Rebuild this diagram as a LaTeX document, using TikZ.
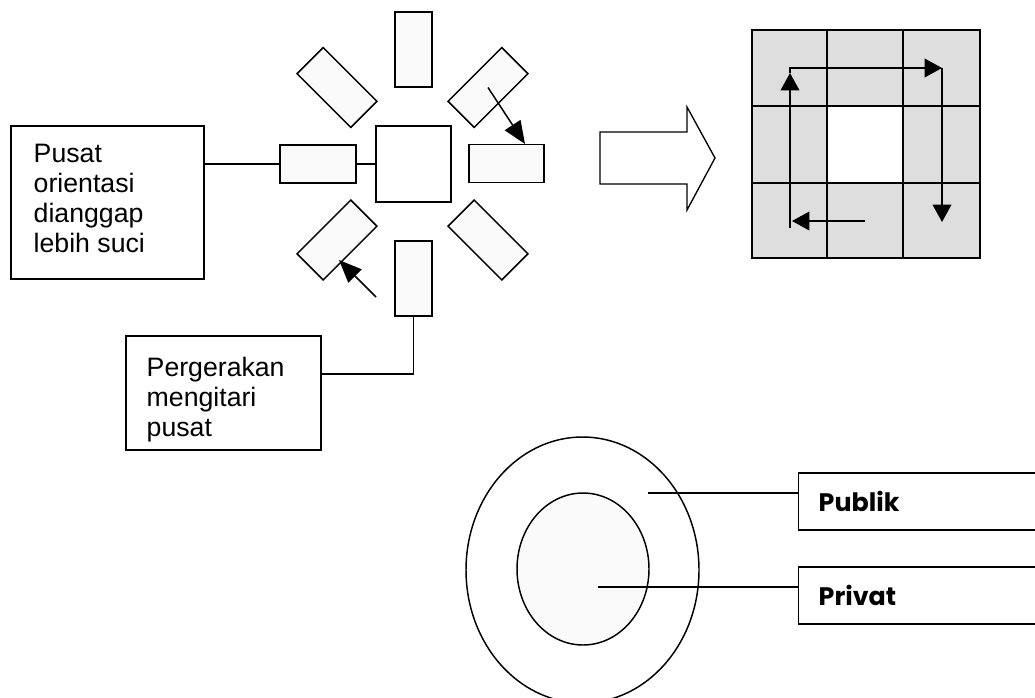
\documentclass[tikz,border=0pt]{standalone}
\usepackage{fontspec}
\setmainfont{Liberation Sans}
\newfontfamily\popfont{Poppins}
\usetikzlibrary{arrows.meta,calc,shapes.geometric}
\begin{document}
\begin{tikzpicture}[x=0.75pt,y=-0.75pt,line width=1.1pt,
  blk/.style={draw=black,line width=1.1pt,inner sep=0pt},
  rbox/.style={blk,fill=gray!4,minimum width=57pt,minimum height=27.75pt},
  vbox/.style={blk,fill=gray!4,minimum width=27.75pt,minimum height=56.25pt},
  hbox/.style={blk,fill=gray!4,minimum width=57pt,minimum height=28.5pt},
  lbl/.style={inner sep=0pt,anchor=north west,align=left,font=\fontsize{20}{22.5}\selectfont},
  tag/.style={blk,anchor=west,minimum width=195pt,minimum height=42.75pt,text width=180pt,inner xsep=15pt,align=left,font=\popfont\bfseries\fontsize{19}{22}\selectfont},
  arr/.style={-{Triangle[length=17pt,width=14pt]},line width=1.1pt},
  garr/.style={-{Triangle[length=13pt,width=14pt]},line width=1.1pt},
  cell/.style={draw=black,line width=1.1pt,fill=gray!26}]
\useasboundingbox (0,0) rectangle (1035,697);
\clip (0,0) rectangle (1035,697);

% radial arrangement
\node[blk,minimum width=56.25pt,minimum height=57pt] (c) at (413.5,164) {};
\node[vbox] (t) at (413.5,49.5) {};
\node[vbox] (b) at (413.5,278.5) {};
\node[hbox] (l) at (318,164) {};
\node[hbox,minimum width=56.25pt] (r) at (506.5,163.5) {};
\node[rbox,rotate=-45] (tl) at (337,87.5) {};
\node[rbox,rotate=45] (tr) at (488,87.5) {};
\node[rbox,rotate=45] (bl) at (337,240) {};
\node[rbox,rotate=-45] (br) at (488,240) {};
\draw (l.east) -- (c.west);

% arrows in radial arrangement
\coordinate (a1) at (525,144);
\draw[arr] (tr.center) -- (a1);
\coordinate (a2s) at (376,297);
\coordinate (a2e) at (339,260);
\draw[arr] (a2s) -- (a2e);

% text boxes
\node[blk,minimum width=144.75pt,minimum height=114.75pt] (pusat) at (107.5,202.5) {};
\node[lbl] (pusattxt) at (33,143) {Pusat\\orientasi\\dianggap\\lebih suci};
\coordinate (pl) at (204,164);
\draw (pl) -- (l.west);

\node[blk,minimum width=146.25pt,minimum height=85.5pt] (perg) at (223.5,393) {};
\node[lbl] (pergtxt) at (146,356) {Pergerakan\\mengitari\\pusat};
\coordinate (pg) at (321,374);
\draw (b.south) |- (pg);

% big outline arrow
\draw[line width=1pt,line join=miter] (600,132) -- (687,132) -- (687,107) -- (715,158) -- (687,210) -- (687,184) -- (600,184) -- cycle;

% grid
\foreach \i/\xa/\xb in {0/752/827,1/827/903,2/903/980}{
  \foreach \j/\ya/\yb in {0/30/106,1/106/183,2/183/258}{
    \draw[cell] (\xa,\ya) rectangle (\xb,\yb);
  }
}
\draw[line width=1.1pt,fill=white] (827,106) rectangle (903,183);
\coordinate (g1) at (865,221);
\coordinate (g2) at (792,221);
\coordinate (g3) at (790,228);
\coordinate (g4) at (790,73);
\coordinate (g5) at (790,68);
\coordinate (g6) at (942,68);
\coordinate (g7) at (942,222);
\draw[garr] (g1) -- (g2);
\draw[garr] (g3) -- (g4);
\draw[garr] (g4) -- (g5) -- (g6);
\draw[garr] (g6) -- (g7);

% circles
\node[blk,ellipse,minimum width=174.75pt,minimum height=199.5pt] (outer) at (582.5,570) {};
\node[blk,ellipse,fill=gray!4,minimum width=99pt,minimum height=114pt] (inner) at (583,569) {};

\node[tag] (pub) at (798,501.5) {Publik};
\node[tag] (priv) at (798,595.5) {Privat};
\coordinate (p1) at (648,493);
\coordinate (p2) at (598,587);
\draw (p1) -- (p1 -| pub.west);
\draw (p2) -- (p2 -| priv.west);
\end{tikzpicture}
\end{document}
